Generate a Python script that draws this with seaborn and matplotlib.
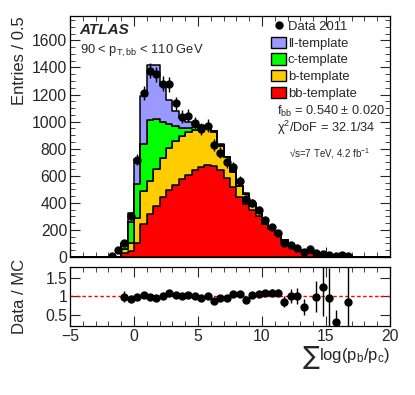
import numpy as np
import pandas as pd
import matplotlib
matplotlib.use("Agg")
import matplotlib.pyplot as plt
from matplotlib.lines import Line2D
from matplotlib.patches import Patch
from matplotlib.ticker import MultipleLocator
import seaborn as sns

# bin centres of the 0.5-wide bins that carry entries
centers = np.arange(-1.75, 17.0, 0.5)

# template contributions per bin (stacked: bb at the bottom)
bb = [0, 0, 30, 45, 105, 240, 315, 380, 445, 492, 535, 578, 603, 640, 665, 677,
      670, 640, 580, 517, 443, 390, 350, 305, 245, 205, 165, 118, 88, 62, 48, 33,
      26, 18, 11, 12, 0, 4]
b = [0, 0, 30, 62, 180, 245, 245, 270, 285, 313, 320, 317, 317, 300, 290, 278,
     252, 182, 155, 113, 80, 75, 42, 35, 17, 10, 7, 5, 3, 2, 2, 2,
     2, 1, 1, 1, 0, 1]
c = [0, 0, 37, 151, 255, 350, 450, 370, 270, 180, 110, 60, 35, 20, 10, 7,
     6, 6, 5, 4, 3, 3, 2, 2, 2, 2, 1, 1, 1, 1, 1, 0,
     0, 0, 0, 0, 0, 0]
ll = [0, 0, 4, 65, 187, 355, 410, 395, 260, 175, 115, 70, 40, 15, 7, 3,
      4, 4, 2, 2, 2, 2, 2, 1, 1, 1, 1, 0, 0, 0, 0, 0,
      0, 0, 0, 0, 0, 0]

# data 2011
data = [10, 50, 100, 300, 720, 1210, 1375, 1350, 1280, 1275, 1135, 1035, 1045, 990, 945, 970,
        825, 770, 700, 665, 565, 425, 400, 345, 270, 225, 180, 105, 92, 65, 36, 60,
        28, 24, 11, 4, 11, 4]
data_err = [5, 11, 15, 26, 40, 52, 55, 55, 54, 54, 50, 48, 48, 47, 46, 47,
            43, 42, 40, 39, 36, 31, 30, 28, 25, 22, 20, 15, 14, 12, 9, 12,
            8, 7, 5, 3, 5, 3]

# data / MC
ratio = [np.nan, np.nan, 0.99, 0.93, 0.99, 1.03, 0.99, 0.96, 1.02, 1.10, 1.05, 1.01, 1.05, 1.01, 0.96, 1.02,
         0.89, 0.95, 0.96, 1.08, 1.08, 0.90, 1.05, 1.08, 1.10, 1.10, 1.10, 0.86, 1.01, 1.01, 0.71, np.nan,
         0.99, 1.27, 0.95, 0.31, np.nan, 0.84]
ratio_err = [0, 0, 0.15, 0.08, 0.05, 0.04, 0.04, 0.04, 0.04, 0.04, 0.04, 0.04, 0.04, 0.04, 0.04, 0.04,
             0.05, 0.05, 0.05, 0.05, 0.06, 0.06, 0.07, 0.07, 0.08, 0.09, 0.1, 0.14, 0.18, 0.22, 0.22, 0,
             0.42, 0.8, 0.83, 0.33, 0, 1.0]

templates = ["ll-template", "c-template", "b-template", "bb-template"]
colors = ["#9999ff", "#00ff00", "#ffcc00", "#ff0000"]

sns.set_style("ticks")
plt.rcParams['font.family'] = ['Liberation Sans', 'DejaVu Sans']
plt.rcParams['mathtext.fontset'] = 'custom'
plt.rcParams['mathtext.rm'] = 'Liberation Sans'
plt.rcParams['mathtext.it'] = 'Liberation Sans:italic'
plt.rcParams['mathtext.bf'] = 'Liberation Sans:bold'

df = pd.DataFrame({
    "x": np.tile(centers, 4),
    "w": np.concatenate([ll, c, b, bb]),
    "template": np.repeat(templates, len(centers)),
})

fig = plt.figure(figsize=(4.15, 3.95), dpi=100)
ax = fig.add_axes([0.1687, 0.3494, 0.771, 0.610])
ax2 = fig.add_axes([0.1687, 0.1747, 0.771, 0.1494])

sns.histplot(data=df, x="x", weights="w", hue="template", hue_order=templates,
             multiple="stack", element="step", binwidth=0.5, binrange=(-5, 20),
             palette=colors, edgecolor="black", linewidth=1.1, alpha=1,
             legend=False, ax=ax)
ax.errorbar(centers, data, yerr=data_err, fmt="o", color="black", ms=5,
            elinewidth=1, capsize=0, zorder=5)

ax.set_xlim(-5, 20)
ax.set_ylim(0, 1780)
ax.set_xlabel("")
ax.set_ylabel("Entries / 0.5", fontsize=12, loc="top")
ax.yaxis.set_label_coords(-0.135, 1.0)
ax.xaxis.set_major_locator(MultipleLocator(5))
ax.xaxis.set_minor_locator(MultipleLocator(1))
ax.yaxis.set_major_locator(MultipleLocator(200))
ax.yaxis.set_minor_locator(MultipleLocator(50))
ax.tick_params(which="both", direction="in", top=True, right=True, labelsize=11.3, pad=2)
ax.tick_params(which="major", length=7)
ax.tick_params(which="minor", length=3.5)
ax.tick_params(axis="x", labelbottom=False)

# ratio panel
ax2.axhline(1, color="red", ls=(0, (2.5, 1.8)), lw=1)
ax2.errorbar(centers, ratio, yerr=ratio_err, fmt="o", color="black", ms=5,
             elinewidth=1, capsize=0, zorder=5)
ax2.set_xlim(-5, 20)
ax2.set_ylim(0.2, 1.8)
ax2.xaxis.set_major_locator(MultipleLocator(5))
ax2.xaxis.set_minor_locator(MultipleLocator(1))
ax2.set_yticks([0.5, 1, 1.5])
ax2.set_yticklabels(["0.5", "1", "1.5"])
ax2.tick_params(which="both", direction="in", top=True, right=True, labelsize=11.3, pad=2)
ax2.tick_params(which="major", length=7)
ax2.tick_params(which="minor", length=3.5)
ax2.set_ylabel("Data / MC", fontsize=12)
ax2.yaxis.set_label_coords(-0.135, 0.5)
ax2.set_xlabel(r"log(p$_{\rm b}$/p$_{\rm c}$)", fontsize=12, loc="right")
ax2.xaxis.set_label_coords(1.0, -0.34)
fig.canvas.draw()
fig.text(0, 0, "∑", fontsize=18, family="DejaVu Sans", ha="right", va="center",
         transform=None)
lab_box = ax2.xaxis.label.get_window_extent()
fig.texts[-1].set_position((lab_box.x0, lab_box.y0 + 0.45 * lab_box.height))

for a in (ax, ax2):
    for s in a.spines.values():
        s.set_color("black")
        s.set_linewidth(0.9)

# legend
handles = [Line2D([], [], marker="o", ls="none", color="black", ms=5)]
handles += [Patch(facecolor=col, edgecolor="black", lw=1) for col in colors]
labels = ["Data 2011"] + templates
fig.legend(handles, labels, loc="upper left", bbox_to_anchor=(271 / 415, 1 - 20 / 395),
           frameon=False, fontsize=9.4, handlelength=1.15, handleheight=0.95,
           handletextpad=0.15, labelspacing=0.27, borderpad=0, borderaxespad=0)

ax.text(0.03, 0.94, "ATLAS", transform=ax.transAxes, fontsize=11,
        fontweight="bold", style="italic", va="center")
ax.text(0.03, 0.855, r"90 < p$_{\rm T,bb}$ < 110 GeV", transform=ax.transAxes,
        fontsize=9.3, va="center")
ax.text(0.985, 0.605, r"f$_{\rm bb}$ = 0.540 ± 0.020", transform=ax.transAxes,
        fontsize=9.2, ha="right", va="center")
ax.text(0.955, 0.535, r"χ$^2$/DoF = 32.1/34", transform=ax.transAxes,
        fontsize=9.2, ha="right", va="center")
ax.text(0.94, 0.43, r"√s=7 TeV, 4.2 fb$^{-1}$", transform=ax.transAxes,
        fontsize=7, ha="right", va="center")

fig.savefig("out.png", dpi=100)
